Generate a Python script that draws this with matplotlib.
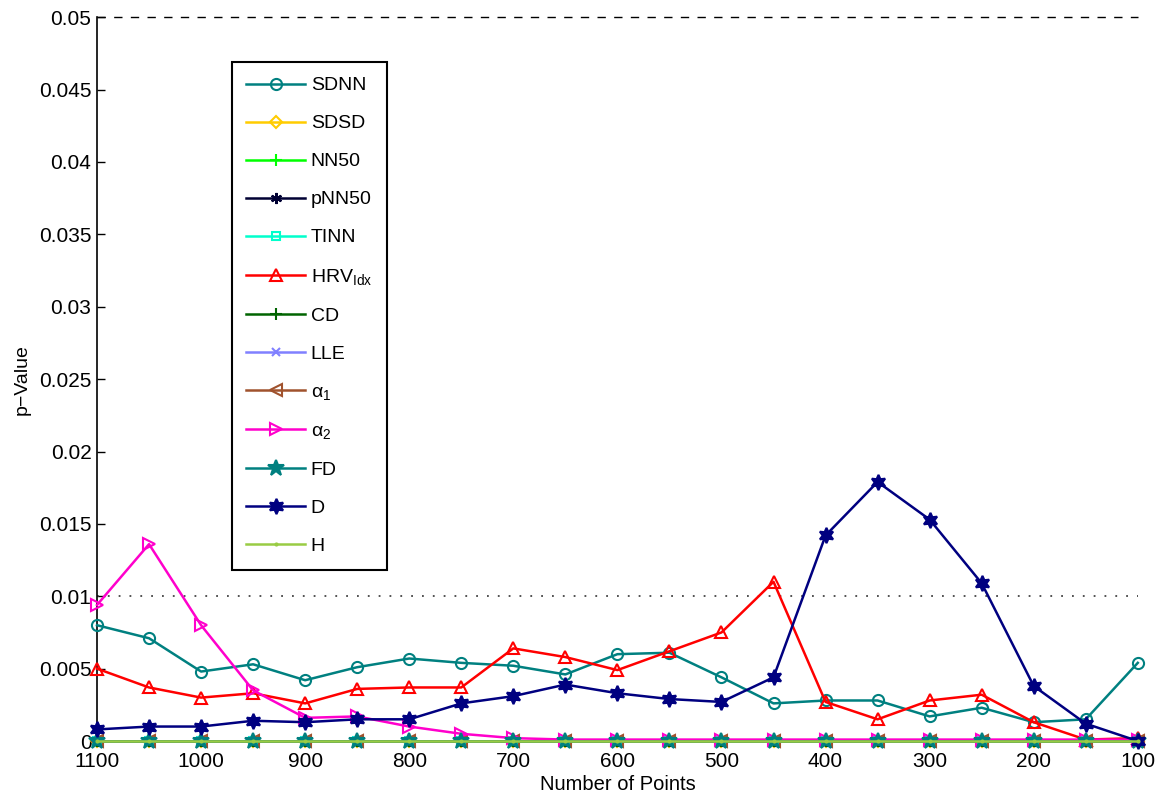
import matplotlib.pyplot as plt
import numpy as np

plt.rcParams.update({
    'font.family': ['Liberation Sans', 'DejaVu Sans'],
    'font.size': 14,
    'mathtext.fontset': 'custom',
    'mathtext.rm': 'Liberation Sans',
    'mathtext.it': 'Liberation Sans:italic',
})

# Data
points = [1100, 1050, 1000, 950, 900, 850, 800, 750, 700, 650, 600,
          550, 500, 450, 400, 350, 300, 250, 200, 150, 100]
zeros = [0.0] * 21

sdnn = [0.0080, 0.0071, 0.0048, 0.0053, 0.0042, 0.0051, 0.0057, 0.0054, 0.0052, 0.0046, 0.0060,
        0.0061, 0.0044, 0.0026, 0.0028, 0.0028, 0.0017, 0.0023, 0.0013, 0.0015, 0.0054]
sdsd = zeros
nn50 = zeros
pnn50 = zeros
tinn = zeros
hrv_idx = [0.0050, 0.0037, 0.0030, 0.0033, 0.0026, 0.0036, 0.0037, 0.0037, 0.0064, 0.0058, 0.0049,
           0.0062, 0.0075, 0.0110, 0.0027, 0.0015, 0.0028, 0.0032, 0.0013, 0.0001, 0.0002]
cd = zeros
lle = zeros
alpha1 = zeros
alpha2 = [0.0094, 0.0136, 0.0080, 0.0035, 0.0016, 0.0017, 0.0010, 0.0005, 0.0002, 0.0001, 0.0001,
          0.0001, 0.0001, 0.0001, 0.0001, 0.0001, 0.0001, 0.0001, 0.0001, 0.0001, 0.0001]
fd = zeros
d_vals = [0.0008, 0.0010, 0.0010, 0.0014, 0.0013, 0.0015, 0.0015, 0.0026, 0.0031, 0.0039, 0.0033,
          0.0029, 0.0027, 0.0044, 0.0142, 0.0179, 0.0153, 0.0109, 0.0038, 0.0012, 0.0000]
h_vals = zeros

fig = plt.figure(figsize=(11.59, 7.98), dpi=100)
ax = fig.add_axes([0.0837, 0.0714, 0.898, 0.907])

# (label, data, color, marker, markersize, filled)
series = [
    ('SDNN', sdnn, '#008080', 'o', 8, False),
    ('SDSD', sdsd, '#FFCC00', 'D', 6, False),
    ('NN50', nn50, '#00FF00', '+', 9, False),
    ('pNN50', pnn50, '#000033', (6, 2, 0), 8, False),
    ('TINN', tinn, '#00FFCC', 's', 6, False),
    (r'HRV$_{\mathrm{Idx}}$', hrv_idx, '#FF0000', '^', 9, False),
    ('CD', cd, '#006400', '+', 9, False),
    ('LLE', lle, '#8080FF', 'x', 6, False),
    (r'$\mathrm{\alpha}_1$', alpha1, '#A0522D', '<', 9, False),
    (r'$\mathrm{\alpha}_2$', alpha2, '#FF00CC', '>', 9, False),
    ('FD', fd, '#008080', '*', 12, True),
    ('D', d_vals, '#000080', (6, 1, 0), 11, True),
    ('H', h_vals, '#99CC44', '.', 3, True),
]

for i, (label, vals, color, marker, ms, filled) in enumerate(series):
    ax.plot(points, vals, color=color, marker=marker, markersize=ms,
            markerfacecolor=color if filled else 'none',
            markeredgecolor=color, markeredgewidth=1.5, linewidth=1.8,
            label=label, clip_on=False, zorder=3 + i * 0.1)

ax.axhline(0.05, color='black', linestyle=(0, (6, 6)), linewidth=1.0, clip_on=False)
ax.axhline(0.01, color='#444444', linestyle=(0, (1, 5)), linewidth=1.3)

ax.set_xlim(1100, 100)
ax.set_ylim(0, 0.05)
ax.set_xticks(np.arange(1100, 99, -100))
ax.set_yticks(np.arange(0, 0.0501, 0.005))
ax.set_yticklabels(['0', '0.005', '0.01', '0.015', '0.02', '0.025', '0.03',
                    '0.035', '0.04', '0.045', '0.05'])
ax.tick_params(direction='in', length=6, width=1.0, labelsize=15)
ax.tick_params(axis='x', pad=8)
ax.tick_params(axis='y', pad=4)
ax.spines['top'].set_visible(False)
ax.spines['right'].set_visible(False)
ax.spines['left'].set_linewidth(1.2)
ax.set_xlabel('Number of Points', fontsize=14.5, labelpad=3)
ax.set_ylabel('p\u2212Value', fontsize=14, labelpad=6)

leg = ax.legend(loc='upper left', bbox_to_anchor=(0.1296, 0.938),
                fontsize=14, labelspacing=1.05, handlelength=3.0,
                handletextpad=0.3, borderpad=0.75, fancybox=False,
                framealpha=1, edgecolor='black', borderaxespad=0)
leg.get_frame().set_linewidth(1.5)
leg.set_zorder(10)

fig.savefig('out.png', dpi=100, facecolor='white')
